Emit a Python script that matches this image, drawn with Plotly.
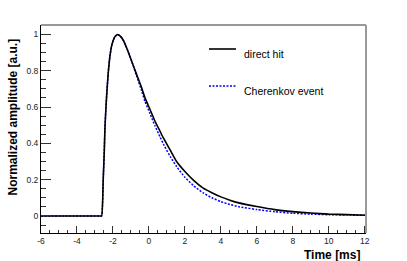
import plotly.graph_objects as go

# ---- data ----
time_direct = [-6.0, -2.7, -2.63, -2.537, -2.481, -2.444, -2.389, -2.333, -2.259, -2.167, -2.074,
               -1.981, -1.889, -1.741, -1.593, -1.426, -1.241, -0.963, -0.685, -0.407, -0.222,
               0.056, 0.333, 0.611, 0.796, 1.2, 1.54, 2.0, 2.5, 3.0, 3.5, 4.0, 4.5, 5.0, 6.0,
               7.0, 8.0, 9.0, 10.0, 11.0, 12.1]
amp_direct = [0.0, 0.0, 0.0, 0.211, 0.358, 0.486, 0.597, 0.689, 0.790, 0.881, 0.937,
              0.968, 0.988, 1.0, 0.991, 0.968, 0.927, 0.854, 0.780, 0.707, 0.652,
              0.588, 0.523, 0.468, 0.431, 0.36, 0.30, 0.245, 0.195, 0.155, 0.128, 0.105, 0.087, 0.072, 0.052,
              0.035, 0.024, 0.016, 0.010, 0.007, 0.004]

time_cherenkov = [-6.0, -2.7, -2.63, -2.537, -2.481, -2.444, -2.389, -2.333, -2.259, -2.167, -2.074,
                  -1.981, -1.889, -1.741, -1.593, -1.426, -1.241, -0.963, -0.685, -0.407, -0.222,
                  0.056, 0.333, 0.611, 0.85, 1.2, 1.54, 2.0, 2.5, 3.0, 3.5, 4.0, 4.5, 5.0, 6.0,
                  7.0, 8.0, 9.0, 10.0, 11.0, 12.1]
amp_cherenkov = [0.0, 0.0, 0.0, 0.211, 0.358, 0.486, 0.597, 0.689, 0.790, 0.881, 0.937,
                 0.968, 0.988, 1.0, 0.991, 0.968, 0.927, 0.854, 0.772, 0.690, 0.632,
                 0.565, 0.497, 0.437, 0.388, 0.325, 0.272, 0.213, 0.165, 0.128, 0.100, 0.079, 0.063, 0.051, 0.035,
                 0.023, 0.015, 0.010, 0.007, 0.005, 0.003]

x_tickvals = [-6, -4, -2, 0, 2, 4, 6, 8, 10, 12]
x_ticktext = ["-6", "-4", "-2", "0", "2", "4", "6", "8", "10", "12"]
y_tickvals = [0, 0.2, 0.4, 0.6, 0.8, 1]
y_ticktext = ["0", "0.2", "0.4", "0.6", "0.8", "1"]

series_names = ["direct hit", "Cherenkov event"]
x_title = "Time [ms]"
y_title = "Normalized amplitude [a.u.]"

FONT = "Liberation Sans, Arial, Helvetica, sans-serif"

fig = go.Figure()
fig.add_trace(go.Scatter(x=time_cherenkov, y=amp_cherenkov, mode="lines",
                         line=dict(color="#0000ff", width=1.5, dash="2px,1.5px",
                                   shape="spline", smoothing=0.5),
                         name=series_names[1], showlegend=False))
fig.add_trace(go.Scatter(x=time_direct, y=amp_direct, mode="lines",
                         line=dict(color="#000000", width=1.6, shape="spline", smoothing=0.5),
                         name=series_names[0], showlegend=False))

W, H = 407, 261
L, R, T, B = 41, 41, 25, 28
pw, ph = W - L - R, H - T - B

def px(xp):
    return (xp - L) / pw

def py(yp):
    return 1 - (yp - T) / ph

fig.update_layout(
    width=W, height=H,
    margin=dict(l=L, r=R, t=T, b=B, pad=0),
    paper_bgcolor="white", plot_bgcolor="white",
    font=dict(family=FONT, color="#222222", size=8.5),
    showlegend=False,
)
fig.update_xaxes(
    range=[-6, 12.07], showgrid=False, zeroline=False,
    showline=True, linecolor="#000000", linewidth=1,
    ticks="inside", ticklen=7, tickwidth=1, tickcolor="#333333",
    tickvals=x_tickvals, ticktext=x_ticktext,
    tickfont=dict(size=8.5, family=FONT, color="#222222"),
    minor=dict(ticks="inside", ticklen=3.5, dtick=0.5, tick0=0, tickcolor="#333333", showgrid=False),
)
fig.update_yaxes(
    range=[-0.094, 1.052], showgrid=False, zeroline=False,
    showline=True, linecolor="#000000", linewidth=1,
    ticks="inside", ticklen=10, tickwidth=1, tickcolor="#333333",
    tickvals=y_tickvals, ticktext=y_ticktext,
    tickfont=dict(size=8.5, family=FONT, color="#222222"),
    minor=dict(ticks="inside", ticklen=5, dtick=0.05, tick0=0, tickcolor="#333333", showgrid=False),
)

# frame top and right
fig.add_shape(type="line", xref="paper", yref="paper", x0=0, x1=1, y0=1, y1=1,
              line=dict(color="#333333", width=1))
fig.add_shape(type="line", xref="paper", yref="paper", x0=1, x1=1, y0=0, y1=1,
              line=dict(color="#999999", width=2))

# legend
fig.add_shape(type="line", xref="paper", yref="paper", x0=px(209), x1=px(236), y0=py(49), y1=py(49),
              line=dict(color="#000000", width=1.6))
fig.add_shape(type="line", xref="paper", yref="paper", x0=px(209), x1=px(236), y0=py(86), y1=py(86),
              line=dict(color="#0000ff", width=1.5, dash="2px,1.5px"))
fig.add_annotation(text=series_names[0], xref="paper", yref="paper", x=px(242), y=py(54),
                   xanchor="left", yanchor="middle", showarrow=False,
                   font=dict(family=FONT, size=10.5, color="#000000"))
fig.add_annotation(text=series_names[1], xref="paper", yref="paper", x=px(242), y=py(91),
                   xanchor="left", yanchor="middle", showarrow=False,
                   font=dict(family=FONT, size=10.5, color="#000000"))

# axis titles
fig.add_annotation(text="<b>" + x_title + "</b>", xref="paper", yref="paper", x=px(362), y=py(254.5),
                   xanchor="right", yanchor="middle", showarrow=False,
                   font=dict(family=FONT, size=12, color="#000000"))
fig.add_annotation(text="<b>" + y_title + "</b>", xref="paper", yref="paper", x=px(12), y=py(37),
                   xanchor="center", yanchor="top", textangle=-90, showarrow=False,
                   font=dict(family=FONT, size=12, color="#000000"))

fig.write_html("out.html", config={"displayModeBar": False})

# remove the browser's default body margin so the figure sits at the window origin
with open("out.html", "r", encoding="utf-8") as f:
    html = f.read()
html = html.replace("<body>", '<body style="margin:0;padding:0;overflow:hidden">', 1)
with open("out.html", "w", encoding="utf-8") as f:
    f.write(html)
